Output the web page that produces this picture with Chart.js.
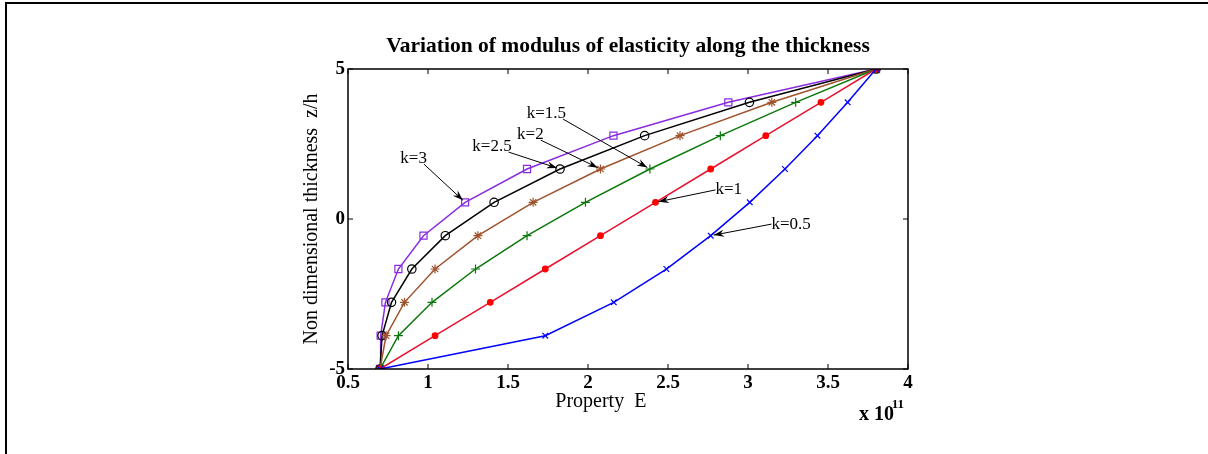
<!DOCTYPE html>
<html>
<head>
<meta charset="utf-8">
<script src="https://cdn.jsdelivr.net/npm/chart.js@4"></script>
<style>
  html, body { margin: 0; padding: 0; background: #fff; }
  #wrap { position: relative; width: 1208px; height: 454px; }
  #frame { position: absolute; left: 5px; top: 2px; right: 0; bottom: -4px;
           border-top: 2px solid #000; border-left: 2px solid #000; pointer-events: none; }
</style>
</head>
<body>
<div id="wrap">
  <canvas id="grafico" width="1208" height="454"></canvas>
  <div id="frame"></div>
</div>
<script>
// z/h positions of the markers (shared by every curve)
const thickness = [-5, -3.889, -2.778, -1.667, -0.556, 0.556, 1.667, 2.778, 3.889, 5];

// E values in units of 1e11
const eK05 = [0.70, 1.733, 2.161, 2.490, 2.767, 3.011, 3.231, 3.434, 3.623, 3.80];
const eK1  = [0.70, 1.044, 1.389, 1.733, 2.078, 2.422, 2.767, 3.111, 3.456, 3.80];
const eK15 = [0.70, 0.815, 1.025, 1.297, 1.619, 1.984, 2.387, 2.827, 3.298, 3.80];
const eK2  = [0.70, 0.738, 0.853, 1.044, 1.312, 1.657, 2.078, 2.575, 3.149, 3.80];
const eK25 = [0.70, 0.713, 0.772, 0.899, 1.108, 1.413, 1.825, 2.354, 3.009, 3.80];
const eK3  = [0.70, 0.704, 0.734, 0.815, 0.972, 1.232, 1.619, 2.159, 2.877, 3.80];

const xTicks = [0.5, 1, 1.5, 2, 2.5, 3, 3.5, 4];
const yTicks = [-5, 0, 5];

// annotation labels: text position (data units) and arrow target (series, point)
const noteLabels = ['k=3', 'k=2.5', 'k=2', 'k=1.5', 'k=1', 'k=0.5'];
const noteTextX  = [0.91, 1.40, 1.64, 1.74, 2.88, 3.27];
const noteTextY  = [2.03, 2.43, 2.83, 3.53, 0.97, -0.17];
const noteSeries = [5, 4, 3, 2, 1, 0];
const notePoint  = [5, 6, 6, 6, 5, 4];

const toPts = arr => arr.map((e, i) => ({ x: e, y: thickness[i] }));

function serie(label, values, color, style, radius, fill) {
  return {
    label: label,
    data: toPts(values),
    borderColor: color,
    backgroundColor: fill ? fill : 'rgba(0,0,0,0)',
    pointBorderColor: fill ? fill : color,
    pointBackgroundColor: fill ? fill : 'rgba(0,0,0,0)',
    pointStyle: style,
    pointRadius: radius,
    pointBorderWidth: 1.2,
    borderWidth: 1.5,
    tension: 0,
    showLine: true
  };
}

const datasets = [
  serie('k=0.5', eK05, '#0000ff', 'crossRot', 4, null),
  serie('k=1',   eK1,  '#e8102e', 'circle', 2.8, '#ff0000'),
  serie('k=1.5', eK15, '#0a780a', 'cross', 4.5, null),
  serie('k=2',   eK2,  '#a0522d', 'star', 4.5, null),
  serie('k=2.5', eK25, '#000000', 'circle', 4.2, null),
  serie('k=3',   eK3,  '#8a2be2', 'rect', 5, null)
];

const serif = '"Liberation Serif", "Times New Roman", serif';
const chartTitle = 'Variation of modulus of elasticity along the thickness';

const matlabBox = {
  id: 'matlabBox',
  afterDatasetsDraw(chart) {
    const { ctx, chartArea: a, scales: { x, y } } = chart;
    ctx.save();
    ctx.strokeStyle = '#000';
    ctx.lineWidth = 1.5;
    ctx.strokeRect(a.left, a.top, a.right - a.left, a.bottom - a.top);
    ctx.lineWidth = 1;
    ctx.beginPath();
    xTicks.forEach(t => {
      const px = x.getPixelForValue(t);
      ctx.moveTo(px, a.bottom); ctx.lineTo(px, a.bottom - 5);
      ctx.moveTo(px, a.top); ctx.lineTo(px, a.top + 5);
    });
    yTicks.forEach(t => {
      const py = y.getPixelForValue(t);
      ctx.moveTo(a.left, py); ctx.lineTo(a.left + 5, py);
      ctx.moveTo(a.right, py); ctx.lineTo(a.right - 5, py);
    });
    ctx.stroke();

    // title centred over the plot box
    ctx.fillStyle = '#000';
    ctx.textAlign = 'center';
    ctx.textBaseline = 'middle';
    ctx.font = 'bold 21.5px ' + serif;
    ctx.fillText(chartTitle, (a.left + a.right) / 2, a.top - 23);

    // arrows + labels
    ctx.font = '17px ' + serif;
    noteLabels.forEach((txt, i) => {
      const tx = x.getPixelForValue(noteTextX[i]);
      const ty = y.getPixelForValue(noteTextY[i]);
      const pt = chart.getDatasetMeta(noteSeries[i]).data[notePoint[i]];
      ctx.fillText(txt, tx, ty);
      const w = ctx.measureText(txt).width;
      let sx, sy;
      if (pt.x > tx) { sx = tx + w / 2 - 3; sy = ty + 6; }
      else { sx = tx - w / 2; sy = ty; }
      const ang = Math.atan2(pt.y - sy, pt.x - sx);
      const ex = pt.x - Math.cos(ang) * 3, ey = pt.y - Math.sin(ang) * 3;
      ctx.lineWidth = 1;
      ctx.beginPath();
      ctx.moveTo(sx, sy); ctx.lineTo(ex, ey);
      ctx.stroke();
      ctx.beginPath();
      ctx.moveTo(ex, ey);
      ctx.lineTo(ex - 11 * Math.cos(ang - 0.33), ey - 11 * Math.sin(ang - 0.33));
      ctx.lineTo(ex - 7 * Math.cos(ang), ey - 7 * Math.sin(ang));
      ctx.lineTo(ex - 11 * Math.cos(ang + 0.33), ey - 11 * Math.sin(ang + 0.33));
      ctx.closePath();
      ctx.fill();
    });

    // x axis title (sits left of centre, as in the original)
    ctx.font = '20px ' + serif;
    ctx.fillText('Property  E', x.getPixelForValue(2.08), a.bottom + 33);

    // exponent label
    ctx.textAlign = 'left';
    ctx.textBaseline = 'alphabetic';
    ctx.font = 'bold 20px ' + serif;
    const bx = a.right - 49, by = a.bottom + 51;
    ctx.fillText('x 10', bx, by);
    ctx.font = 'bold 13px ' + serif;
    ctx.fillText('11', bx + ctx.measureText('x 10').width + 10, by - 12);
    ctx.restore();
  }
};

const ctx = document.getElementById('grafico').getContext('2d');

new Chart(ctx, {
  type: 'scatter',
  data: { datasets: datasets },
  options: {
    responsive: false,
    animation: false,
    layout: { padding: { left: 300, right: 300, top: 69, bottom: 0 } },
    plugins: {
      legend: { display: false },
      tooltip: { enabled: false },
      title: { display: false }
    },
    scales: {
      x: {
        type: 'linear',
        min: 0.5, max: 4,
        afterBuildTicks: s => { s.ticks = xTicks.map(v => ({ value: v })); },
        afterFit: s => { s.height = 85; },
        grid: { display: false, drawTicks: false },
        border: { display: false },
        ticks: {
          color: '#000', padding: 3,
          font: { family: serif, size: 19, weight: 'bold' },
          maxRotation: 0,
          callback: v => String(v)
        }
      },
      y: {
        type: 'linear',
        min: -5, max: 5,
        afterBuildTicks: s => { s.ticks = yTicks.map(v => ({ value: v })); },
        afterFit: s => { s.width = 48; },
        grid: { display: false, drawTicks: false },
        border: { display: false },
        ticks: {
          color: '#000', padding: 3,
          font: { family: serif, size: 19, weight: 'bold' },
          callback: v => String(v)
        },
        title: {
          display: true, text: 'Non dimensional thickness  z/h', color: '#000',
          font: { family: serif, size: 20 },
          padding: { top: 0, bottom: 0 }
        }
      }
    }
  },
  plugins: [matlabBox]
});
</script>
</body>
</html>
